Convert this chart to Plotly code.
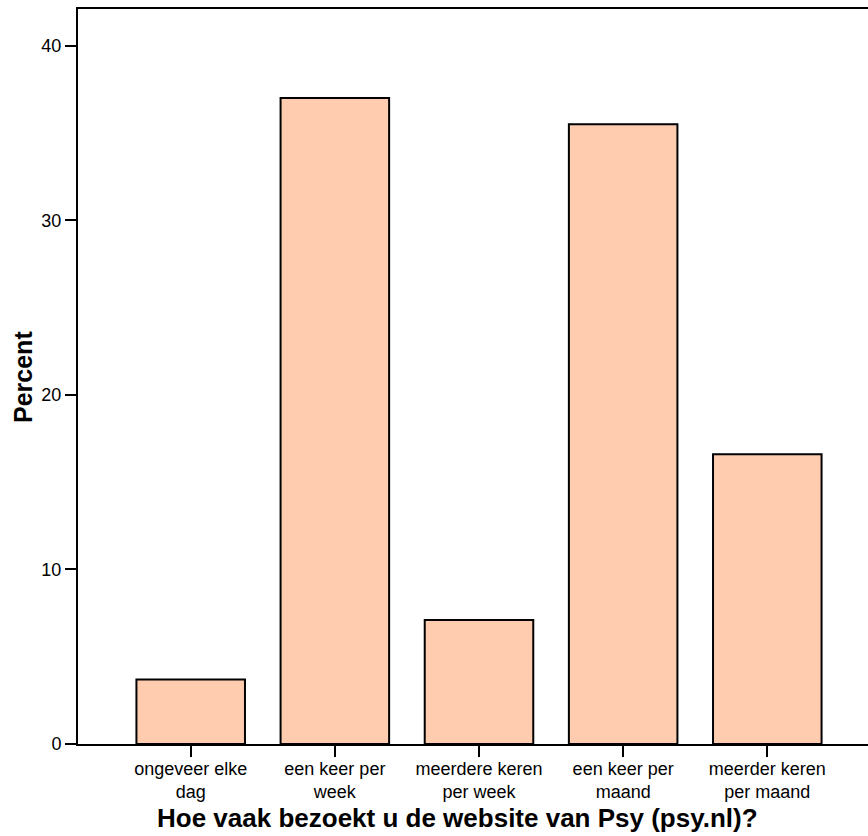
import plotly.graph_objects as go

categories = ["ongeveer elke<br>dag", "een keer per<br>week", "meerdere keren<br>per week",
              "een keer per<br>maand", "meerder keren<br>per maand"]
percent = [3.7, 37.0, 7.1, 35.5, 16.6]
y_ticks = [0, 10, 20, 30, 40]
x_title = "Hoe vaak bezoekt u de website van Psy (psy.nl)?"
y_title = "Percent"

W, H = 868, 836
ML, MT, MB, MR = 78, 9, 92, 0
px_per_cat = 144.15
first_center = 190.7
px_per_unit = 17.46
PW, PH = W - ML - MR, H - MT - MB

x_lo = -(first_center - ML) / px_per_cat
x_hi = (W - MR - first_center) / px_per_cat
y_hi = PH / px_per_unit

xs = list(range(len(categories)))

fig = go.Figure(go.Bar(
    x=xs, y=percent, width=0.753,
    marker=dict(color="#FFCCB0", line=dict(color="black", width=2)),
    hoverinfo="skip",
))

font = "Liberation Sans, Arial, sans-serif"
fig.update_layout(
    width=W, height=H,
    margin=dict(l=ML, r=MR, t=MT, b=MB),
    plot_bgcolor="white", paper_bgcolor="white",
    showlegend=False,
    font=dict(family=font, color="black", size=18),
    xaxis=dict(
        range=[x_lo, x_hi], tickvals=xs, ticktext=categories,
        showline=True, linecolor="black", linewidth=2, mirror=True,
        ticks="outside", ticklen=11, tickwidth=2, tickcolor="black",
        showgrid=False, zeroline=False, tickfont=dict(size=18),
        ticklabelstandoff=-4,
    ),
    yaxis=dict(
        range=[0, y_hi], tickvals=y_ticks,
        showline=True, linecolor="black", linewidth=2, mirror=False,
        ticks="outside", ticklen=11, tickwidth=2, tickcolor="black",
        showgrid=False, zeroline=False, tickfont=dict(size=18),
        ticklabelstandoff=0,
    ),
    annotations=[
        dict(
            text="<b>" + x_title + "</b>", xref="paper", yref="paper",
            x=(457.5 - ML) / PW, y=-(818 - (H - MB)) / PH,
            xanchor="center", yanchor="middle", showarrow=False,
            font=dict(size=26, family=font),
        ),
        dict(
            text="<b>" + y_title + "</b>", xref="paper", yref="paper",
            x=-(ML - 22.5) / PW, y=1 - (377.5 - MT) / PH,
            xanchor="center", yanchor="middle", showarrow=False, textangle=-90,
            font=dict(size=25, family=font),
        ),
    ],
)

fig.write_html("out.html", config={"displayModeBar": False},
               post_script="document.body.style.margin='0';document.body.style.overflow='hidden';")
